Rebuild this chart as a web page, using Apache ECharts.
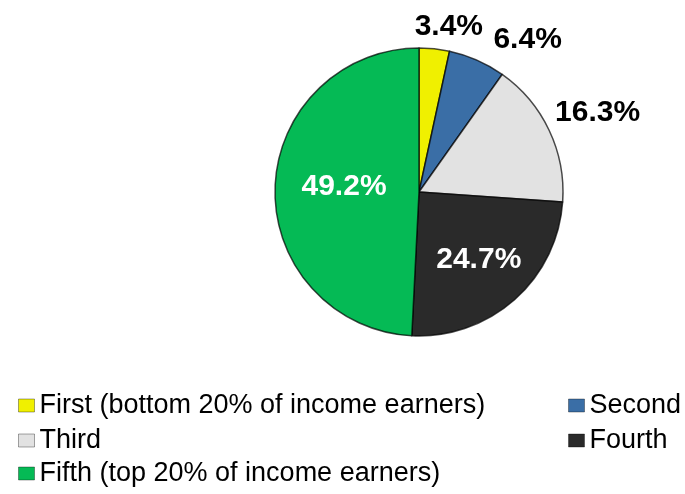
<!DOCTYPE html>
<html>
<head>
<meta charset="utf-8">
<script src="https://cdn.jsdelivr.net/npm/echarts@6/dist/echarts.min.js"></script>
<style>
  html, body { margin: 0; padding: 0; background: #fff; }
  #main { width: 685px; height: 494px; }
</style>
</head>
<body>
<div id="main"></div>
<script>
// income groups and their share (%)
const groups = ['First (bottom 20% of income earners)', 'Second', 'Third', 'Fourth', 'Fifth (top 20% of income earners)'];
const shares = [3.4, 6.4, 16.3, 24.7, 49.2];
const colors = ['#f0f000', '#3a6ea6', '#e2e2e2', '#2a2a2a', '#05ba55'];

// label tweaks (dx, dy) from the default spot, and which labels sit inside
const labelInside = [false, false, false, true, true];
const labelShift = [[-26, -10], [-22, -29], [-5, -12], [10, 12], [0, -3]];

const chart = echarts.init(document.getElementById('main'));

const legendText = { fontSize: 27, color: '#000', fontFamily: 'Liberation Sans, Arial, sans-serif' };
function legendAt(i, left, top) {
  return {
    data: [groups[i]], left: left, top: top, padding: 0,
    icon: 'rect', itemWidth: 16, itemHeight: 13, itemGap: 0,
    itemStyle: { borderWidth: 1, borderColor: 'rgba(0,0,0,0.35)' },
    textStyle: legendText, selectedMode: false
  };
}

const option = {
  animation: false,
  color: colors,
  legend: [
    legendAt(0, 18, 392),
    legendAt(1, 568, 392),
    legendAt(2, 18, 427),
    legendAt(3, 568, 427),
    legendAt(4, 18, 460)
  ],
  series: [{
    type: 'pie',
    center: [419, 192],
    radius: 144,
    startAngle: 90,
    clockwise: true,
    itemStyle: { borderColor: 'rgba(0,0,0,0.7)', borderWidth: 1.5 },
    labelLine: { show: false, length: 12, length2: 0 },
    label: {
      formatter: p => p.value.toFixed(1) + '%',
      fontSize: 30, fontWeight: 'bold',
      fontFamily: 'Liberation Sans, Arial, sans-serif'
    },
    labelLayout: p => ({ dx: labelShift[p.dataIndex][0], dy: labelShift[p.dataIndex][1] }),
    data: groups.map((g, i) => ({
      name: g,
      value: shares[i],
      label: labelInside[i]
        ? { position: 'inside', color: '#fff' }
        : { position: 'outside', color: '#000' }
    }))
  }]
};

chart.setOption(option);
</script>
</body>
</html>
